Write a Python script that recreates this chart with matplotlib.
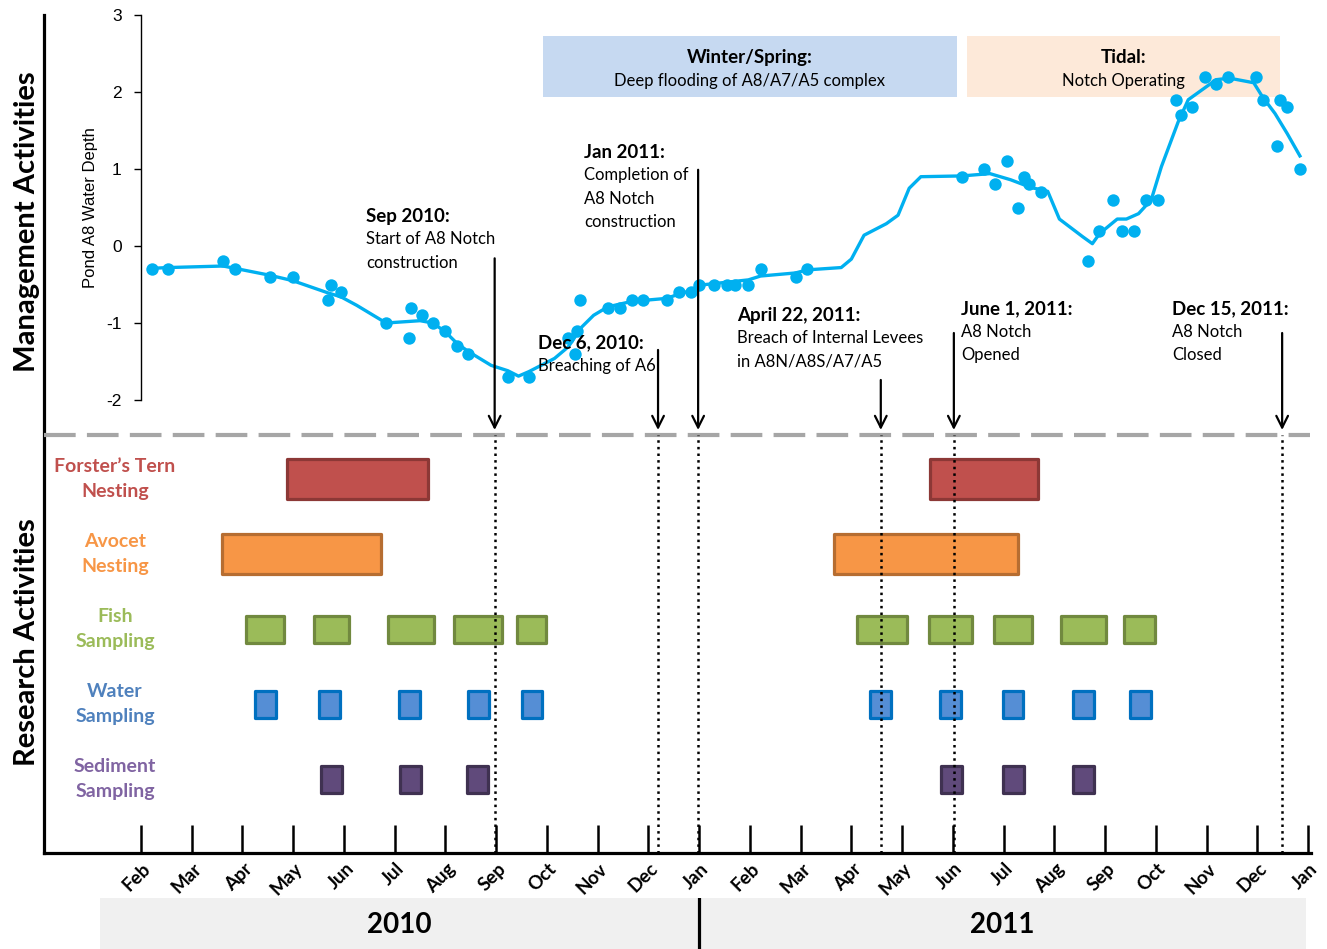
import matplotlib
matplotlib.use("Agg")
import matplotlib.pyplot as plt
from matplotlib import transforms

plt.rcParams["font.family"] = ["Lato", "DejaVu Sans"]
plt.rcParams["axes.unicode_minus"] = False

W, H = 1327, 949

# month index: Jan 2010 = 0, Jan 2011 = 12, Jan 2012 = 24
MONTH_NAMES = ["Jan", "Feb", "Mar", "Apr", "May", "Jun",
               "Jul", "Aug", "Sep", "Oct", "Nov", "Dec"]
tick_months = list(range(1, 25))
years = ["2010", "2011"]

# Pond A8 water depth, individual readings
depth_month = [1.22, 1.53, 2.62, 2.85, 3.54, 3.99, 4.74, 4.69, 4.94, 5.83,
               6.33, 6.29, 6.53, 6.75, 6.99, 7.22, 7.45, 8.23, 8.65, 9.42,
               9.55, 9.60, 9.65, 10.20, 10.44, 10.67, 10.90, 11.36, 11.60,
               11.83, 11.99, 12.29, 12.54, 12.71, 12.97, 13.21, 13.90, 14.13,
               17.18, 17.62, 17.84, 18.07, 18.28, 18.40, 18.50, 18.73, 19.66,
               19.89, 20.15, 20.34, 20.57, 20.80, 21.05, 21.40, 21.49, 21.72,
               21.97, 22.19, 22.42, 22.98, 23.11, 23.38, 23.45, 23.58, 23.84]
depth_value = [-0.3, -0.3, -0.2, -0.3, -0.4, -0.4, -0.5, -0.7, -0.6, -1.0,
               -0.8, -1.2, -0.9, -1.0, -1.1, -1.3, -1.4, -1.7, -1.7, -1.2,
               -1.4, -1.1, -0.7, -0.8, -0.8, -0.7, -0.7, -0.7, -0.6,
               -0.6, -0.5, -0.5, -0.5, -0.5, -0.5, -0.3, -0.4, -0.3,
               0.9, 1.0, 0.8, 1.1, 0.5, 0.9, 0.8, 0.7, -0.2,
               0.2, 0.6, 0.2, 0.2, 0.6, 0.6, 1.9, 1.7, 1.8,
               2.2, 2.1, 2.2, 2.2, 1.9, 1.3, 1.9, 1.8, 1.0]

# smoothed trend line
trend_month = [1.22, 1.53, 2.62, 2.85, 3.54, 3.99, 4.69, 4.94, 5.25, 5.83,
               6.50, 6.75, 6.99, 7.22, 7.45, 7.90, 8.23, 8.44, 8.65, 9.15,
               9.42, 9.69, 9.92, 10.20, 10.67, 11.36, 11.62, 11.83, 11.99,
               12.97, 13.21, 13.90, 14.13, 14.80, 15.00, 15.25, 15.69, 15.92,
               16.14, 16.37, 17.18, 17.73, 18.14, 18.54, 18.87, 19.10, 19.56,
               19.75, 19.89, 20.24, 20.42, 20.66, 20.91, 21.11, 21.44, 21.64,
               22.19, 22.45, 22.93, 23.10, 23.35, 23.59, 23.84]
trend_value = [-0.29, -0.28, -0.26, -0.29, -0.38, -0.45, -0.61, -0.66, -0.77, -1.00,
               -0.97, -1.00, -1.11, -1.26, -1.37, -1.55, -1.62, -1.69, -1.63, -1.46,
               -1.31, -1.05, -0.90, -0.79, -0.72, -0.68, -0.62, -0.58, -0.51,
               -0.44, -0.39, -0.35, -0.31, -0.28, -0.17, 0.14, 0.29, 0.40,
               0.75, 0.90, 0.91, 0.94, 0.86, 0.76, 0.71, 0.35, 0.12,
               0.03, 0.16, 0.35, 0.35, 0.42, 0.60, 1.03, 1.61, 1.90,
               2.16, 2.18, 2.12, 1.94, 1.72, 1.46, 1.17]

# management periods
period_names = ["Winter/Spring:", "Tidal:"]
period_desc = ["Deep flooding of A8/A7/A5 complex", "Notch Operating"]
period_start = [8.92, 17.28]
period_end = [17.08, 23.45]
period_colors = ["#c6d9f1", "#fde9d9"]

# management events
event_month = [7.97, 11.19, 11.98, 15.58, 17.02, 23.49]
event_arrow_top = [-0.16, -1.35, 0.99, -1.74, -1.13, -1.13]
event_head = ["Sep 2010:", "Dec 6, 2010:", "Jan 2011:", "April 22, 2011:",
              "June 1, 2011:", "Dec 15, 2011:"]
event_body = ["Start of A8 Notch\nconstruction", "Breaching of A6",
              "Completion of\nA8 Notch\nconstruction",
              "Breach of Internal Levees\nin A8N/A8S/A7/A5",
              "A8 Notch\nOpened", "A8 Notch\nClosed"]
event_text_x = [5.43, 8.82, 9.73, 12.75, 17.16, 21.32]
event_text_y = [0.38, -1.26, 1.21, -0.90, -0.82, -0.82]

# research activities (start month, end month)
research_labels = ["Forster\u2019s Tern\nNesting", "Avocet\nNesting",
                   "Fish\nSampling", "Water\nSampling", "Sediment\nSampling"]
tern_periods = [(3.88, 6.66), (16.55, 18.68)]
avocet_periods = [(2.60, 5.73), (14.66, 18.28)]
fish_periods = [(3.07, 3.82), (4.41, 5.10), (5.87, 6.77), (7.17, 8.11),
                (8.41, 8.98), (15.11, 16.10), (16.53, 17.38), (17.81, 18.56),
                (19.13, 20.02), (20.37, 20.98)]
water_periods = [(3.25, 3.66), (4.51, 4.92), (6.09, 6.50), (7.45, 7.86),
                 (8.50, 8.91), (15.37, 15.78), (16.75, 17.16), (17.98, 18.39),
                 (19.37, 19.78), (20.49, 20.90)]
sediment_periods = [(4.55, 4.96), (6.11, 6.52), (7.43, 7.84), (16.77, 17.18),
                    (17.99, 18.40), (19.37, 19.78)]
research_periods = [tern_periods, avocet_periods, fish_periods,
                    water_periods, sediment_periods]
research_fill = ["#c0504d", "#f79646", "#9bbb59", "#558ed5", "#604a7b"]
research_edge = ["#8c3836", "#b66d31", "#71893f", "#0070c0", "#3f3151"]
research_text = ["#c0504d", "#f79646", "#9bbb59", "#4f81bd", "#8064a2"]
research_height = [0.53, 0.53, 0.36, 0.36, 0.36]

XL = (1 + (44 - 141) / 50.74, 1 + (1320 - 141) / 50.74)


def fig_box(x0, y0, x1, y1):
    return [x0 / W, 1 - y1 / H, (x1 - x0) / W, (y1 - y0) / H]


fig = plt.figure(figsize=(W / 100, H / 100), dpi=100)

# ---- frame with month axis ----
axbg = fig.add_axes(fig_box(44, 15, 1320, 853))
axbg.set_xlim(XL)
axbg.set_ylim(0, 1)
axbg.patch.set_visible(False)
for s in ("top", "right"):
    axbg.spines[s].set_visible(False)
for s in ("left", "bottom"):
    axbg.spines[s].set_linewidth(2.3)
axbg.spines["bottom"].set_bounds(XL[0], 24.05)
axbg.set_yticks([])
axbg.set_xticks(tick_months)
axbg.set_xticklabels([MONTH_NAMES[m % 12] for m in tick_months],
                     fontsize=13.5, fontweight="bold", rotation=45,
                     ha="right", va="top", rotation_mode="anchor")
axbg.tick_params(axis="x", direction="in", length=20, width=1.8, pad=5)
shift = transforms.ScaledTranslation(0.01, 0, fig.dpi_scale_trans)
for lab in axbg.get_xticklabels():
    lab.set_transform(lab.get_transform() + shift)

# ---- water depth panel ----
ax1 = fig.add_axes(fig_box(44, 15, 1320, 435))
ax1.set_xlim(XL)
ax1.set_ylim((246 - 435) / 77, 3)
ax1.patch.set_visible(False)
for s in ("top", "right", "bottom"):
    ax1.spines[s].set_visible(False)
ax1.spines["left"].set_position(("data", 1))
ax1.spines["left"].set_bounds(-2, 3)
ax1.spines["left"].set_linewidth(1.0)
ax1.set_xticks([])
ax1.set_yticks(range(-2, 4))
ax1.tick_params(axis="y", length=5, width=1.0, pad=9)
for lab in ax1.get_yticklabels():
    lab.set_fontfamily("Liberation Sans")
    lab.set_fontsize(12.5)
ax1.set_ylabel("Pond A8 Water Depth", fontfamily="Liberation Sans", fontsize=12)
ax1.yaxis.set_label_coords((98 - 44) / 1276, (435 - 208) / 420)

y0 = ax1.get_ylim()[0]
for x0, x1, c, name, desc in zip(period_start, period_end, period_colors,
                                 period_names, period_desc):
    ax1.axvspan(x0, x1, ymin=(1.935 - y0) / (3 - y0),
                ymax=(2.727 - y0) / (3 - y0), color=c, lw=0, zorder=0)
    xc = (x0 + x1) / 2
    ax1.text(xc, 2.45, name, ha="center", va="center", fontsize=13.5,
             fontweight="bold", zorder=5)
    ax1.text(xc, 2.14, desc, ha="center", va="center", fontsize=12, zorder=5)

ax1.plot(trend_month, trend_value, color="#00b0f0", lw=2.4, zorder=3)
ax1.scatter(depth_month, depth_value, s=80, color="#00b0f0", lw=0, zorder=4)

arrow_bottom = (246 - 430) / 77
for m, top, head, body, tx, ty in zip(event_month, event_arrow_top, event_head,
                                      event_body, event_text_x, event_text_y):
    ax1.annotate("", xy=(m, arrow_bottom), xytext=(m, top),
                 arrowprops=dict(arrowstyle="->,head_length=0.7,head_width=0.35",
                                 lw=1.6, color="black", shrinkA=0, shrinkB=0,
                                 mutation_scale=12),
                 zorder=6)
    ax1.text(tx, ty, head, ha="left", va="center", fontsize=13.5,
             fontweight="bold", zorder=7)
    ax1.text(tx, ty - 0.19, body, ha="left", va="top", fontsize=12,
             linespacing=1.55, zorder=7)

# ---- research activities panel ----
ax2 = fig.add_axes(fig_box(44, 435, 1320, 853))
ax2.set_xlim(XL)
ax2.set_ylim((853 - 479) / 75, (435 - 479) / 75)
ax2.axis("off")
for i, (periods, fc, ec, tc, h, lab) in enumerate(
        zip(research_periods, research_fill, research_edge, research_text,
            research_height, research_labels)):
    ax2.broken_barh([(a, b - a) for a, b in periods], (i - h / 2, h),
                    facecolors=fc, edgecolors=ec, linewidth=2.3, zorder=2)
    ax2.text((115 - 44) / 1276, i, lab, transform=ax2.get_yaxis_transform(),
             ha="center", va="center", color=tc, fontsize=14,
             fontweight="bold", linespacing=1.6)
for m in event_month:
    ax2.axvline(m, color="black", ls=":", lw=1.8, zorder=3)
ax2.plot([0, (1310 - 44) / 1276], [1, 1], transform=ax2.transAxes,
         color="#a6a6a6", lw=3, dashes=(7.6, 2.7), clip_on=False, zorder=1)

# ---- year band ----
axy = fig.add_axes(fig_box(44, 898, 1320, 949))
axy.set_xlim(XL)
axy.set_ylim(0, 1)
axy.axis("off")
axy.axvspan(0.19, 23.96, color="#f0f0f0", lw=0)
axy.axvline(12, color="black", lw=2.3)
for yr, (a, b) in zip(years, [(0.19, 12), (12, 23.96)]):
    axy.text((a + b) / 2, 0.48, yr, ha="center", va="center", fontsize=20,
             fontweight="bold")

fig.text(27 / W, 1 - 222 / H, "Management Activities", rotation=90,
         ha="center", va="center", fontsize=21, fontweight="bold")
fig.text(27 / W, 1 - 642 / H, "Research Activities", rotation=90,
         ha="center", va="center", fontsize=21, fontweight="bold")

fig.savefig("out.png", dpi=100)
